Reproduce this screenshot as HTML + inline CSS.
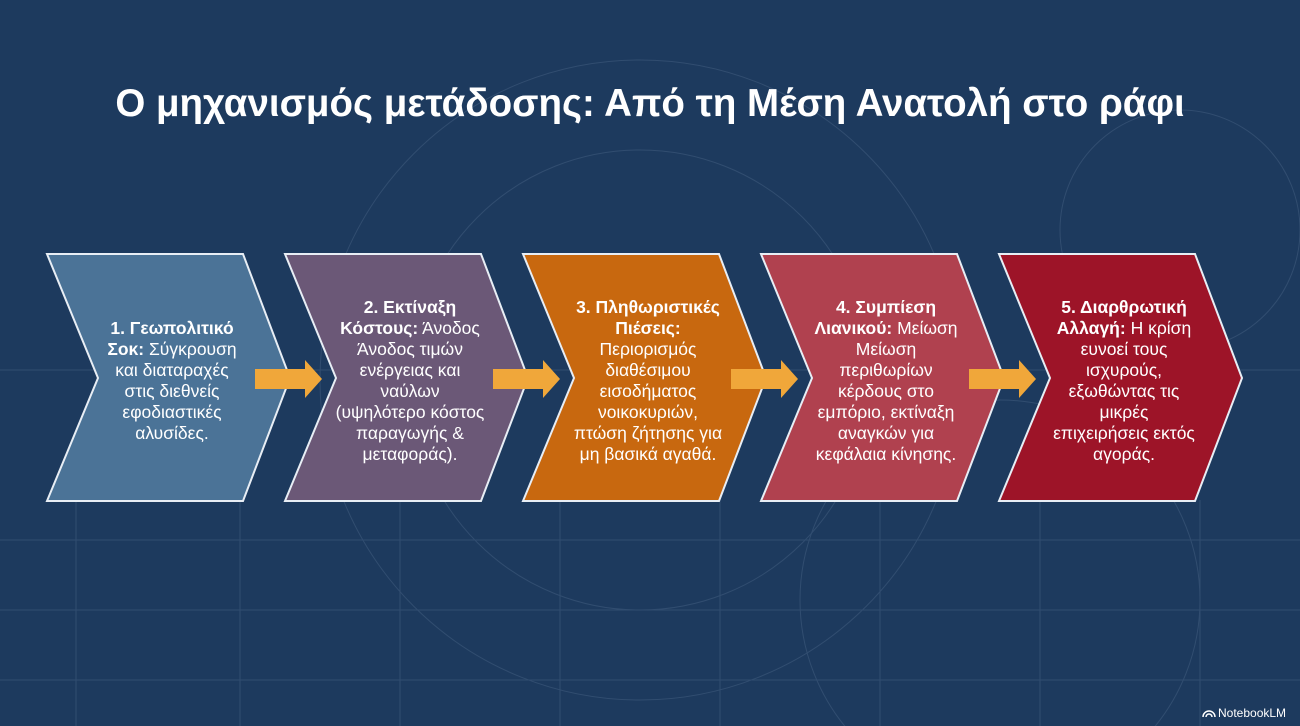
<!DOCTYPE html>
<html><head><meta charset="utf-8"><style>
html,body{margin:0;padding:0;background:#1d3a5e;width:1300px;height:726px;overflow:hidden;}
svg{display:block}
text{font-family:"Liberation Sans","DejaVu Sans",sans-serif;fill:#fff;}
</style></head><body>
<svg width="1300" height="726" viewBox="0 0 1300 726" xmlns="http://www.w3.org/2000/svg">
<rect width="1300" height="726" fill="#1d3a5e"/>
<g stroke="#3a5678" stroke-width="1" fill="none" opacity="0.7">
<line x1="0" y1="370" x2="1300" y2="370"/><line x1="0" y1="540" x2="1300" y2="540"/><line x1="0" y1="610" x2="1300" y2="610"/><line x1="0" y1="680" x2="1300" y2="680"/>
<line x1="76" y1="500" x2="76" y2="726"/><line x1="240" y1="500" x2="240" y2="726"/><line x1="400" y1="500" x2="400" y2="726"/><line x1="560" y1="500" x2="560" y2="726"/><line x1="720" y1="500" x2="720" y2="726"/><line x1="880" y1="500" x2="880" y2="726"/><line x1="1040" y1="500" x2="1040" y2="726"/><line x1="1200" y1="500" x2="1200" y2="726"/>
<circle cx="640" cy="380" r="230"/><circle cx="640" cy="380" r="320"/><circle cx="1180" cy="230" r="120"/><circle cx="1000" cy="600" r="200"/>
</g>
<g stroke="#e8eef5" stroke-width="2">
<polygon points="47,254 243,254 290,378 243,501 47,501 98,378" fill="#4b7397"/>
<polygon points="285,254 481,254 528,378 481,501 285,501 336,378" fill="#6b5877"/>
<polygon points="523,254 719,254 766,378 719,501 523,501 574,378" fill="#c8680f"/>
<polygon points="761,254 957,254 1004,378 957,501 761,501 812,378" fill="#b0414f"/>
<polygon points="999,254 1195,254 1242,378 1195,501 999,501 1050,378" fill="#9d1428"/>
</g>
<g fill="#f0a73a">
<polygon points="255,369 305,369 305,360 322,379 305,398 305,389 255,389"/>
<polygon points="493,369 543,369 543,360 560,379 543,398 543,389 493,389"/>
<polygon points="731,369 781,369 781,360 798,379 781,398 781,389 731,389"/>
<polygon points="969,369 1019,369 1019,360 1036,379 1019,398 1019,389 969,389"/>
</g>
<text x="650" y="116" text-anchor="middle" font-size="38.5" font-weight="bold">Ο μηχανισμός μετάδοσης: Από τη Μέση Ανατολή στο ράφι</text>
<g font-size="17.5" text-anchor="middle">
<text x="172" y="334"><tspan font-weight="bold">1. Γεωπολιτικό</tspan><tspan x="172" dy="21"><tspan font-weight="bold">Σοκ:</tspan> Σύγκρουση</tspan><tspan x="172" dy="21">και διαταραχές</tspan><tspan x="172" dy="21">στις διεθνείς</tspan><tspan x="172" dy="21">εφοδιαστικές</tspan><tspan x="172" dy="21">αλυσίδες.</tspan></text>
<text x="410" y="313"><tspan font-weight="bold">2. Εκτίναξη</tspan><tspan x="410" dy="21"><tspan font-weight="bold">Κόστους:</tspan> Άνοδος</tspan><tspan x="410" dy="21">Άνοδος τιμών</tspan><tspan x="410" dy="21">ενέργειας και</tspan><tspan x="410" dy="21">ναύλων</tspan><tspan x="410" dy="21">(υψηλότερο κόστος</tspan><tspan x="410" dy="21">παραγωγής &amp;</tspan><tspan x="410" dy="21">μεταφοράς).</tspan></text>
<text x="648" y="313"><tspan font-weight="bold">3. Πληθωριστικές</tspan><tspan x="648" dy="21" font-weight="bold">Πιέσεις:</tspan><tspan x="648" dy="21">Περιορισμός</tspan><tspan x="648" dy="21">διαθέσιμου</tspan><tspan x="648" dy="21">εισοδήματος</tspan><tspan x="648" dy="21">νοικοκυριών,</tspan><tspan x="648" dy="21">πτώση ζήτησης για</tspan><tspan x="648" dy="21">μη βασικά αγαθά.</tspan></text>
<text x="886" y="313"><tspan font-weight="bold">4. Συμπίεση</tspan><tspan x="886" dy="21"><tspan font-weight="bold">Λιανικού:</tspan> Μείωση</tspan><tspan x="886" dy="21">Μείωση</tspan><tspan x="886" dy="21">περιθωρίων</tspan><tspan x="886" dy="21">κέρδους στο</tspan><tspan x="886" dy="21">εμπόριο, εκτίναξη</tspan><tspan x="886" dy="21">αναγκών για</tspan><tspan x="886" dy="21">κεφάλαια κίνησης.</tspan></text>
<text x="1124" y="313"><tspan font-weight="bold">5. Διαρθρωτική</tspan><tspan x="1124" dy="21"><tspan font-weight="bold">Αλλαγή:</tspan> Η κρίση</tspan><tspan x="1124" dy="21">ευνοεί τους</tspan><tspan x="1124" dy="21">ισχυρούς,</tspan><tspan x="1124" dy="21">εξωθώντας τις</tspan><tspan x="1124" dy="21">μικρές</tspan><tspan x="1124" dy="21">επιχειρήσεις εκτός</tspan><tspan x="1124" dy="21">αγοράς.</tspan></text>
</g>
<g fill="none" stroke="#fff" stroke-width="1.5"><path d="M1203,717 a6,6 0 0 1 12,0"/><path d="M1206,717 a3,3 0 0 1 6,0"/></g>
<text x="1218" y="717" font-size="12">NotebookLM</text>
</svg>
</body></html>
